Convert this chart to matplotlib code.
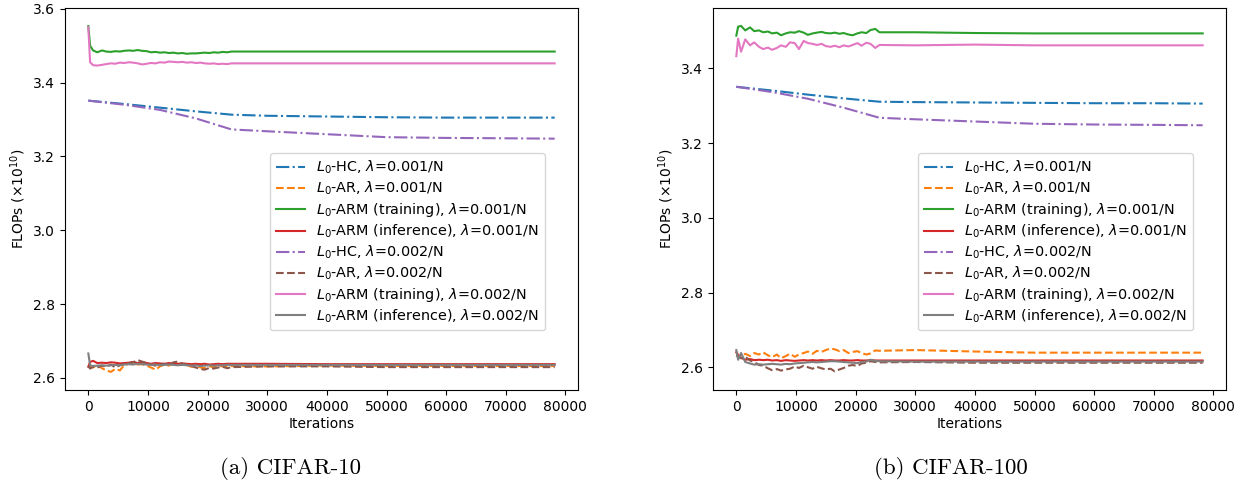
import matplotlib
matplotlib.use("Agg")
import matplotlib.pyplot as plt

# shared iteration grid for the noisy curves
iters = [0, 300, 800, 1500, 2300, 3000, 3800, 4500, 5300, 6000, 6800, 7500, 8300, 9000,
         9800, 10500, 11300, 12000, 12800, 13500, 14300, 15000, 15800, 16500, 17300, 18000,
         18800, 19500, 20300, 21000, 21800, 22500, 23300, 24000, 30000, 40000, 50000, 60000,
         70000, 78200]
hc_iters = [0, 6000, 12000, 18000, 24000, 30000, 40000, 50000, 60000, 70000, 78200]

# ---- CIFAR-10 ----
c10_hc_1 = [3.351, 3.342, 3.332, 3.322, 3.313, 3.310, 3.308, 3.306, 3.305, 3.305, 3.305]
c10_hc_2 = [3.351, 3.340, 3.326, 3.303, 3.273, 3.268, 3.260, 3.252, 3.250, 3.249, 3.248]
c10_ar_1 = [2.628, 2.632, 2.628, 2.633, 2.626, 2.620, 2.616, 2.624, 2.620, 2.634, 2.638, 2.640,
            2.636, 2.637, 2.633, 2.628, 2.622, 2.631, 2.636, 2.633, 2.640, 2.635, 2.637, 2.634,
            2.630, 2.632, 2.628, 2.626, 2.631, 2.629, 2.633, 2.631, 2.630, 2.632, 2.631, 2.633,
            2.632, 2.632, 2.632, 2.632]
c10_ar_2 = [2.632, 2.625, 2.630, 2.628, 2.633, 2.630, 2.636, 2.628, 2.634, 2.637, 2.640, 2.642,
            2.648, 2.644, 2.640, 2.636, 2.633, 2.636, 2.638, 2.635, 2.642, 2.644, 2.638, 2.636,
            2.632, 2.628, 2.624, 2.622, 2.627, 2.625, 2.628, 2.630, 2.626, 2.629, 2.631, 2.631,
            2.629, 2.629, 2.629, 2.629]
c10_train_1 = [3.553, 3.500, 3.487, 3.482, 3.487, 3.484, 3.483, 3.485, 3.484, 3.486, 3.487, 3.486,
               3.488, 3.486, 3.485, 3.482, 3.483, 3.481, 3.482, 3.480, 3.481, 3.479, 3.480, 3.478,
               3.479, 3.479, 3.480, 3.481, 3.480, 3.482, 3.481, 3.483, 3.482, 3.484, 3.484, 3.484,
               3.484, 3.484, 3.484, 3.484]
c10_train_2 = [3.550, 3.455, 3.447, 3.446, 3.448, 3.450, 3.452, 3.451, 3.454, 3.453, 3.455, 3.454,
               3.452, 3.449, 3.451, 3.453, 3.452, 3.455, 3.454, 3.457, 3.456, 3.455, 3.456, 3.454,
               3.455, 3.453, 3.454, 3.452, 3.451, 3.452, 3.450, 3.451, 3.450, 3.452, 3.452, 3.452,
               3.452, 3.452, 3.452, 3.452]
c10_inf_1 = [2.630, 2.643, 2.646, 2.640, 2.641, 2.640, 2.642, 2.641, 2.639, 2.640, 2.641, 2.643,
             2.640, 2.642, 2.640, 2.638, 2.640, 2.639, 2.638, 2.640, 2.639, 2.638, 2.639, 2.638,
             2.637, 2.638, 2.637, 2.638, 2.636, 2.637, 2.638, 2.637, 2.638, 2.638, 2.638, 2.637,
             2.637, 2.637, 2.637, 2.637]
c10_inf_2 = [2.666, 2.634, 2.632, 2.633, 2.634, 2.633, 2.634, 2.635, 2.634, 2.636, 2.637, 2.636,
             2.638, 2.637, 2.636, 2.635, 2.636, 2.634, 2.635, 2.636, 2.635, 2.634, 2.635, 2.634,
             2.633, 2.634, 2.632, 2.633, 2.634, 2.633, 2.634, 2.634, 2.635, 2.635, 2.635, 2.635,
             2.635, 2.635, 2.635, 2.635]

# ---- CIFAR-100 ----
c100_hc_1 = [3.351, 3.341, 3.330, 3.320, 3.311, 3.310, 3.309, 3.308, 3.307, 3.307, 3.306]
c100_hc_2 = [3.351, 3.337, 3.319, 3.295, 3.268, 3.264, 3.258, 3.252, 3.250, 3.249, 3.248]
c100_ar_1 = [2.642, 2.632, 2.628, 2.636, 2.630, 2.638, 2.634, 2.640, 2.632, 2.627, 2.634, 2.624,
             2.630, 2.636, 2.628, 2.634, 2.638, 2.642, 2.636, 2.644, 2.641, 2.646, 2.650, 2.648,
             2.643, 2.646, 2.638, 2.641, 2.643, 2.638, 2.634, 2.637, 2.645, 2.644, 2.646, 2.642,
             2.639, 2.639, 2.639, 2.639]
c100_ar_2 = [2.632, 2.628, 2.624, 2.628, 2.618, 2.614, 2.606, 2.604, 2.597, 2.592, 2.595, 2.591,
             2.594, 2.596, 2.602, 2.598, 2.604, 2.600, 2.596, 2.601, 2.597, 2.594, 2.596, 2.589,
             2.594, 2.598, 2.604, 2.606, 2.603, 2.610, 2.612, 2.616, 2.614, 2.613, 2.614, 2.612,
             2.612, 2.612, 2.612, 2.612]
c100_train_1 = [3.488, 3.512, 3.514, 3.502, 3.510, 3.500, 3.502, 3.497, 3.499, 3.494, 3.496, 3.489,
                3.494, 3.497, 3.496, 3.500, 3.496, 3.490, 3.494, 3.496, 3.498, 3.495, 3.494, 3.496,
                3.493, 3.495, 3.491, 3.489, 3.494, 3.497, 3.495, 3.503, 3.506, 3.497, 3.497, 3.495,
                3.494, 3.494, 3.494, 3.494]
c100_train_2 = [3.433, 3.480, 3.445, 3.478, 3.462, 3.470, 3.458, 3.452, 3.456, 3.450, 3.455, 3.462,
                3.458, 3.470, 3.468, 3.452, 3.474, 3.468, 3.466, 3.463, 3.466, 3.460, 3.458, 3.461,
                3.457, 3.462, 3.459, 3.463, 3.468, 3.461, 3.469, 3.466, 3.455, 3.463, 3.462, 3.464,
                3.462, 3.462, 3.462, 3.462]
c100_inf_1 = [2.640, 2.632, 2.625, 2.620, 2.622, 2.619, 2.620, 2.619, 2.620, 2.618, 2.619, 2.617,
              2.619, 2.618, 2.617, 2.618, 2.619, 2.618, 2.619, 2.618, 2.619, 2.618, 2.619, 2.618,
              2.618, 2.619, 2.618, 2.618, 2.619, 2.618, 2.618, 2.619, 2.618, 2.618, 2.618, 2.618,
              2.618, 2.618, 2.618, 2.618]
c100_inf_2 = [2.646, 2.620, 2.638, 2.614, 2.610, 2.607, 2.608, 2.607, 2.608, 2.609, 2.608, 2.607,
              2.609, 2.608, 2.610, 2.611, 2.612, 2.613, 2.614, 2.613, 2.614, 2.615, 2.616, 2.616,
              2.615, 2.614, 2.613, 2.612, 2.611, 2.614, 2.615, 2.620, 2.617, 2.616, 2.615, 2.615,
              2.615, 2.615, 2.615, 2.615]

labels = [r'$L_0$-HC, $\lambda$=0.001/N', r'$L_0$-AR, $\lambda$=0.001/N',
          r'$L_0$-ARM (training), $\lambda$=0.001/N', r'$L_0$-ARM (inference), $\lambda$=0.001/N',
          r'$L_0$-HC, $\lambda$=0.002/N', r'$L_0$-AR, $\lambda$=0.002/N',
          r'$L_0$-ARM (training), $\lambda$=0.002/N', r'$L_0$-ARM (inference), $\lambda$=0.002/N']
styles = ['-.', '--', '-', '-', '-.', '--', '-', '-']

panels = [
    ([c10_hc_1, c10_ar_1, c10_train_1, c10_inf_1, c10_hc_2, c10_ar_2, c10_train_2, c10_inf_2],
     (2.567, 3.602), '(a) CIFAR-10'),
    ([c100_hc_1, c100_ar_1, c100_train_1, c100_inf_1, c100_hc_2, c100_ar_2, c100_train_2, c100_inf_2],
     (2.539, 3.562), '(b) CIFAR-100'),
]
W, H = 1248, 494
ax_boxes = [[65 / W, 1 - 390 / H, 513 / W, 382 / H],
            [713 / W, 1 - 390 / H, 513 / W, 382 / H]]
caption_x = [290 / W, 951 / W]

fig = plt.figure(figsize=(W / 100, H / 100), dpi=100)
for k, (series, ylim, caption) in enumerate(panels):
    ax = fig.add_axes(ax_boxes[k])
    for i, ys in enumerate(series):
        xs = hc_iters if styles[i] == '-.' else iters
        ax.plot(xs, ys, styles[i], color='C%d' % i, lw=1.5, label=labels[i])
    ax.set_ylim(*ylim)
    ax.set_xlabel('Iterations', fontsize=10, labelpad=2)
    ax.set_ylabel(r'FLOPs ($\times 10^{10}$)', fontsize=10)
    ax.tick_params(labelsize=10)
    ax.legend(loc='upper left', bbox_to_anchor=(0.40, 0.62), fontsize=10.4,
              labelspacing=0.25, borderaxespad=0)
    fig.text(caption_x[k], 1 - 468 / H, caption, family='cmr10', fontsize=16.5,
             ha='center', va='center')

fig.savefig('out.png', dpi=100)
